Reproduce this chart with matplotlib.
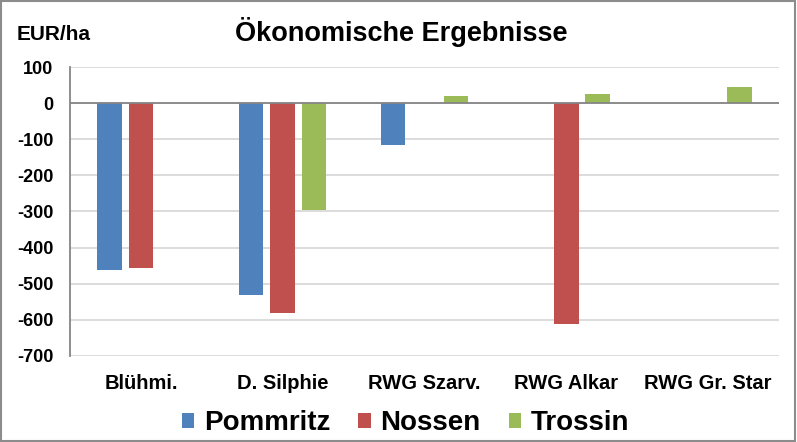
import matplotlib.pyplot as plt
import matplotlib.patches as mpatches
import numpy as np

plt.rcParams['font.family'] = ['Liberation Sans', 'DejaVu Sans']

categories = ['Blühmi.', 'D. Silphie', 'RWG Szarv.', 'RWG Alkar', 'RWG Gr. Star']
series = ['Pommritz', 'Nossen', 'Trossin']
pommritz = [-463, -532, -116, np.nan, np.nan]
nossen = [-456, -582, np.nan, -612, np.nan]
trossin = [np.nan, -295, 19, 26, 45]
colors = ['#4F81BD', '#C0504D', '#9BBB59']
yticks = [100, 0, -100, -200, -300, -400, -500, -600, -700]

fig = plt.figure(figsize=(7.97, 4.42), dpi=100)
ax = fig.add_axes([0.0878, 0.1946, 0.8896, 0.6538])

x = np.arange(len(categories))
step = 0.222
width = 0.173
for i, (name, vals) in enumerate(zip(series, [pommritz, nossen, trossin])):
    ax.bar(x + (i - 1) * step, vals, width, color=colors[i], label=name, zorder=3)

ax.set_xlim(-0.5, len(categories) - 0.5)
ax.set_ylim(-700, 100)
ax.set_yticks(yticks)
ax.set_yticklabels([str(v) for v in yticks], fontsize=13, fontweight='bold')
ax.set_xticks(x)
ax.set_xticklabels(categories, fontsize=14.5, fontweight='bold')
ax.tick_params(axis='y', length=0, pad=12)
ax.tick_params(axis='x', length=0, pad=13)
ax.yaxis.grid(True, color='#d9d9d9', linewidth=1.3, zorder=0)
ax.axhline(0, color='#868686', linewidth=1.3, zorder=4)
for s in ['top', 'right', 'bottom']:
    ax.spines[s].set_visible(False)
ax.spines['left'].set_color('#868686')
ax.spines['left'].set_linewidth(1.3)

fig.text(0.503, 0.927, 'Ökonomische Ergebnisse', ha='center', va='center',
         fontsize=19.5, fontweight='bold')
fig.text(0.021, 0.921, 'EUR/ha', ha='left', va='center', fontsize=15, fontweight='bold')

fig.legend(loc='center', bbox_to_anchor=(0.509, 0.042), ncol=3, frameon=False,
           prop={'size': 20, 'weight': 'bold'}, handlelength=0.45, handleheight=0.45,
           handletextpad=0.35, columnspacing=1.0)

fig.patches.append(mpatches.Rectangle((0.001, 0.002), 0.997, 0.995, transform=fig.transFigure,
                                      fill=False, edgecolor='#8c8c8c', linewidth=1.5))

fig.savefig('out.png', dpi=100)
